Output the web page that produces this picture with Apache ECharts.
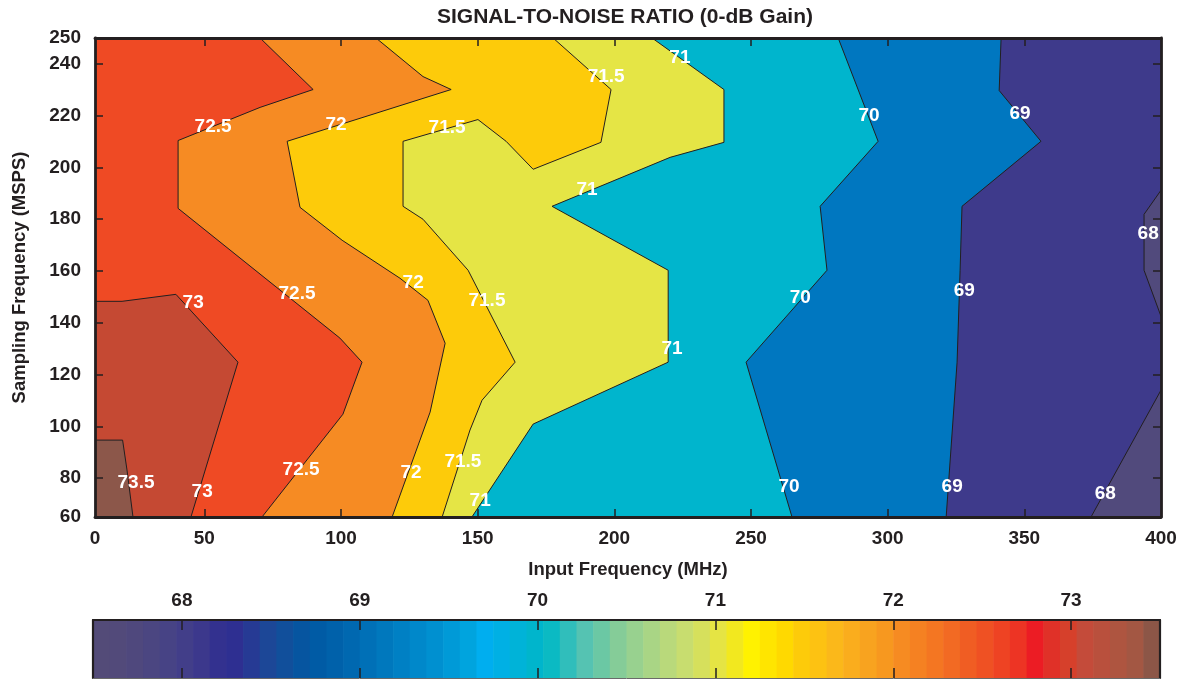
<!DOCTYPE html>
<html>
<head>
<meta charset="utf-8">
<script src="https://cdn.jsdelivr.net/npm/echarts@6/dist/echarts.min.js"></script>
<style>
  html, body { margin: 0; padding: 0; background: #ffffff; }
  #chart { width: 1183px; height: 679px; }
</style>
</head>
<body>
<div id="chart"></div>
<script>
// SNR (dB) contour map over input frequency (MHz) and sampling frequency (MSPS).
// Each contour boundary is a polyline of [inputFreq, samplingFreq] vertices.

const inputRange = [10, 400];
const samplingRange = [65, 250];

const xTickValues = [10, 50, 100, 150, 200, 250, 300, 350, 400];
const xTickLabels = ['0', '50', '100', '150', '200', '250', '300', '350', '400'];
const xTickMarks = [50, 100, 150, 200, 250, 300, 350];
const yTickValues = [65, 80, 100, 120, 140, 160, 180, 200, 220, 240, 250];
const yTickLabels = ['60', '80', '100', '120', '140', '160', '180', '200', '220', '240', '250'];
const yTickMarks = [80, 100, 120, 140, 160, 180, 200, 220, 240];

// contour levels (dB) and the boundaries drawn at each of them
const levels = [68, 69, 70, 71, 71.5, 72, 72.5, 73, 73.5];

const level68a = [[400, 191.2], [393.8, 181.9], [393.8, 160.3], [400, 142.5]];
const level68b = [[374.4, 65], [400, 114.0]];
const level69 = [[341.5, 250], [340.8, 229.7], [356.1, 210.1], [327.2, 185.0], [326.5, 160.3], [325.4, 124.8], [321.4, 65]];
const level70 = [[281.9, 250], [296.5, 210.1], [275.3, 185.0], [277.8, 160.3], [248.2, 124.8], [265.0, 65]];
const level71 = [[213.8, 250], [240.1, 230.1], [240.1, 209.7], [220.4, 203.9], [177.2, 185.0], [219.7, 160.3], [219.7, 124.8], [170.3, 100.9], [147.9, 65]];
const level71_5 = [[177.6, 250], [198.8, 230.1], [195.1, 209.7], [170.3, 199.3], [160.4, 210.1], [150.1, 218.5], [122.7, 210.1], [122.7, 185.0], [130.0, 180.0], [146.5, 160.3], [163.7, 124.8], [151.6, 110.1], [147.2, 98.6], [137.0, 65]];
const level72 = [[112.8, 250], [130.0, 235.1], [140.3, 230.1], [80.3, 210.1], [85.0, 184.6], [100.4, 171.9], [121.6, 157.2], [131.8, 148.7], [138.1, 132.1], [132.6, 105.5], [128.9, 94.7], [118.7, 65]];
const level72_5 = [[70.4, 250], [89.8, 230.1], [70.4, 223.2], [40.4, 210.4], [40.4, 184.2], [99.6, 134.1], [107.7, 124.8], [100.7, 104.7], [71.1, 65]];
const level73 = [[10, 148.3], [19.9, 148.3], [39.6, 151.0], [62.3, 124.8], [45.1, 65]];
const level73_5 = [[10, 94.7], [20.1, 94.7], [21.7, 83.2], [23.9, 65]];

// inline labels: [inputFreq, samplingFreq, level]
const contourLabels = [
  [25.0, 78.1, 73.5],
  [49.2, 74.6, 73], [45.9, 147.6, 73],
  [53.2, 215.6, 72.5], [83.9, 151.4, 72.5], [85.4, 83.1, 72.5],
  [98.2, 216.6, 72], [126.4, 155.3, 72], [125.6, 82.0, 72],
  [197.0, 235.1, 71.5], [138.8, 215.5, 71.5], [153.4, 148.7, 71.5], [144.6, 86.2, 71.5],
  [224.0, 242.5, 71], [190.0, 191.5, 71], [221.1, 129.8, 71], [150.9, 71.2, 71],
  [293.2, 220.1, 70], [268.0, 149.5, 70], [263.9, 76.6, 70],
  [348.4, 220.9, 69], [328.0, 152.2, 69], [323.6, 76.6, 69],
  [395.3, 174.2, 68], [379.6, 73.9, 68]
];

// colour bar
const cbarRange = [67.5, 73.5];
const cbarTicks = [68, 69, 70, 71, 72, 73];
const colormap = [
  '#534b78', '#524a7a', '#4f487d', '#4b4681', '#474385', '#423e89', '#3c388c', '#33318f',
  '#2e2f91', '#263a94', '#1c4797', '#114f9b', '#0655a0', '#005ba5', '#0061aa', '#0068b0',
  '#0070b7', '#0078bd', '#0080c4', '#0088ca', '#0090d0', '#009ad7', '#00a4de', '#00aeef',
  '#00b0e4', '#00b3d8', '#00b5cc', '#0bbac3', '#30bebb', '#55c3b2', '#6bc8a4', '#85cc98',
  '#98d18f', '#a9d585', '#b9d97b', '#c8dd6f', '#d6e05c', '#e5e444', '#f2e81f', '#fff200',
  '#ffe500', '#ffd900', '#fdcb0a', '#fdc212', '#fbb81a', '#faad1d', '#f8a31f', '#f7981f',
  '#f68b22', '#f58122', '#f47622', '#f26a23', '#f05d23', '#ef5123', '#ee4323', '#ed3424',
  '#ec1c24', '#e03128', '#d6402b', '#c44b3a', '#b9503d', '#ae5540', '#a35743', '#8c5647'
];

// fill colour of each band: below 68, 68–69, 69–70, ..., above 73.5
const bandColors = ['#514a7c', '#3e3a8b', '#0077c0', '#00b5cd', '#e5e545', '#fdcb0a', '#f68b23', '#ef4a24', '#c54933', '#8c574a'];
const inkColor = '#231f20';
const fontFamily = '"Liberation Sans", Arial, Helvetica, sans-serif';

const [xMin, xMax] = inputRange;
const [yMin, yMax] = samplingRange;
const leftSide = [[xMin, yMin], [xMin, yMax]];

// painted in order; each later layer covers the higher-SNR side of its boundary
const fillLayers = [
  { band: 1, pts: [[xMin, yMin], [xMax, yMin], [xMax, yMax], [xMin, yMax]] },
  { band: 0, pts: level68a },
  { band: 0, pts: level68b.concat([[xMax, yMin]]) },
  { band: 2, pts: level69.concat(leftSide) },
  { band: 3, pts: level70.concat(leftSide) },
  { band: 4, pts: level71.concat(leftSide) },
  { band: 5, pts: level71_5.concat(leftSide) },
  { band: 6, pts: level72.concat(leftSide) },
  { band: 7, pts: level72_5.concat(leftSide) },
  { band: 8, pts: level73.concat([[xMin, yMin]]) },
  { band: 9, pts: level73_5.concat([[xMin, yMin]]) }
];
const boundaryLines = [level68a, level68b, level69, level70, level71, level71_5, level72, level72_5, level73, level73_5];

const chart = echarts.init(document.getElementById('chart'), null, { renderer: 'canvas' });

const labelFont = { fontSize: 19, fontWeight: 'bold', color: inkColor, fontFamily: fontFamily };
const nameFont = { fontSize: 18.5, fontWeight: 'bold', color: inkColor, fontFamily: fontFamily };
const frameLine = { show: true, onZero: false, lineStyle: { color: inkColor, width: 2.8 } };
const tickStyle = { color: inkColor, width: 1.5 };

const option = {
  animation: false,
  textStyle: { fontFamily: fontFamily },
  graphic: [{
    type: 'text',
    x: 625, y: 17,
    z: 20,
    style: {
      text: 'SIGNAL-TO-NOISE RATIO (0-dB Gain)',
      fill: inkColor,
      font: 'bold 21px ' + fontFamily,
      align: 'center', verticalAlign: 'middle',
      textAlign: 'center', textVerticalAlign: 'middle'
    }
  }],
  grid: [
    { left: 95, top: 38, width: 1066, height: 479, containLabel: false },
    { left: 93, top: 620, width: 1067, height: 58, containLabel: false }
  ],
  xAxis: [
    {
      gridIndex: 0, type: 'value', position: 'bottom', min: xMin, max: xMax, z: 10,
      axisLine: frameLine,
      axisTick: { show: true, inside: true, length: 8, customValues: xTickMarks, lineStyle: tickStyle },
      axisLabel: Object.assign({
        margin: 12, customValues: xTickValues,
        formatter: v => xTickLabels[xTickValues.indexOf(v)]
      }, labelFont),
      splitLine: { show: false },
      name: 'Input Frequency (MHz)', nameLocation: 'middle', nameGap: 43,
      nameTextStyle: nameFont
    },
    {
      gridIndex: 0, type: 'value', position: 'top', min: xMin, max: xMax, z: 10,
      axisLine: frameLine,
      axisTick: { show: true, inside: true, length: 8, customValues: xTickMarks, lineStyle: tickStyle },
      axisLabel: { show: false },
      splitLine: { show: false }
    },
    {
      gridIndex: 1, type: 'value', position: 'top', min: cbarRange[0], max: cbarRange[1], z: 10,
      axisLine: { show: true, onZero: false, lineStyle: { color: inkColor, width: 2.2 } },
      axisTick: { show: true, inside: true, length: 10, customValues: cbarTicks, lineStyle: tickStyle },
      axisLabel: Object.assign({ margin: 10, customValues: cbarTicks }, labelFont),
      splitLine: { show: false }
    },
    {
      gridIndex: 1, type: 'value', position: 'bottom', min: cbarRange[0], max: cbarRange[1], z: 10,
      axisLine: { show: true, onZero: false, lineStyle: { color: '#6a6a6a', width: 1 } },
      axisTick: { show: true, inside: true, length: 10, customValues: cbarTicks, lineStyle: tickStyle },
      axisLabel: { show: false },
      splitLine: { show: false }
    }
  ],
  yAxis: [
    {
      gridIndex: 0, type: 'value', position: 'left', min: yMin, max: yMax, z: 10,
      axisLine: frameLine,
      axisTick: { show: true, inside: true, length: 8, customValues: yTickMarks, lineStyle: tickStyle },
      axisLabel: Object.assign({
        margin: 14, customValues: yTickValues,
        formatter: v => yTickLabels[yTickValues.indexOf(v)]
      }, labelFont),
      splitLine: { show: false },
      name: 'Sampling Frequency (MSPS)', nameLocation: 'middle', nameGap: 66, nameRotate: 90,
      nameTextStyle: nameFont
    },
    {
      gridIndex: 0, type: 'value', position: 'right', min: yMin, max: yMax, z: 10,
      axisLine: frameLine,
      axisTick: { show: true, inside: true, length: 8, customValues: yTickMarks, lineStyle: tickStyle },
      axisLabel: { show: false },
      splitLine: { show: false }
    },
    {
      gridIndex: 1, type: 'value', position: 'left', min: 0, max: 1, z: 10,
      axisLine: { show: true, onZero: false, lineStyle: { color: inkColor, width: 2.2 } },
      axisTick: { show: false }, axisLabel: { show: false }, splitLine: { show: false }
    },
    {
      gridIndex: 1, type: 'value', position: 'right', min: 0, max: 1, z: 10,
      axisLine: { show: true, onZero: false, lineStyle: { color: inkColor, width: 2.2 } },
      axisTick: { show: false }, axisLabel: { show: false }, splitLine: { show: false }
    }
  ],
  series: [
    {
      // filled SNR bands
      type: 'custom', xAxisIndex: 0, yAxisIndex: 0, clip: true, silent: true, z: 1,
      data: fillLayers.map(() => [xMin, yMin]),
      renderItem: (params, api) => {
        const layer = fillLayers[params.dataIndex];
        return {
          type: 'polygon',
          shape: { points: layer.pts.map(p => api.coord(p)) },
          style: { fill: bandColors[layer.band], stroke: null, lineWidth: 0 }
        };
      }
    },
    {
      // contour boundaries
      type: 'custom', xAxisIndex: 0, yAxisIndex: 0, clip: true, silent: true, z: 2,
      data: boundaryLines.map(() => [xMin, yMin]),
      renderItem: (params, api) => ({
        type: 'polyline',
        shape: { points: boundaryLines[params.dataIndex].map(p => api.coord(p)) },
        style: { fill: null, stroke: inkColor, lineWidth: 1 }
      })
    },
    {
      // level labels
      type: 'custom', xAxisIndex: 0, yAxisIndex: 0, clip: false, silent: true, z: 3,
      data: contourLabels,
      renderItem: (params, api) => {
        const pos = api.coord([api.value(0), api.value(1)]);
        return {
          type: 'text', x: pos[0], y: pos[1],
          style: {
            text: String(api.value(2)),
            fill: '#ffffff',
            font: 'bold 19px ' + fontFamily,
            align: 'center', verticalAlign: 'middle',
            textAlign: 'center', textVerticalAlign: 'middle'
          }
        };
      }
    },
    {
      // colour bar cells
      type: 'custom', xAxisIndex: 2, yAxisIndex: 2, clip: true, silent: true, z: 1,
      data: colormap.map(() => [cbarRange[0], 0]),
      renderItem: (params, api) => {
        const step = (cbarRange[1] - cbarRange[0]) / colormap.length;
        const lo = cbarRange[0] + params.dataIndex * step;
        const p0 = api.coord([lo, 1]);
        const p1 = api.coord([lo + step, 0]);
        return {
          type: 'rect',
          shape: { x: p0[0], y: p0[1], width: p1[0] - p0[0] + 0.6, height: p1[1] - p0[1] },
          style: { fill: colormap[params.dataIndex], stroke: null }
        };
      }
    }
  ]
};

chart.setOption(option);
</script>
</body>
</html>
